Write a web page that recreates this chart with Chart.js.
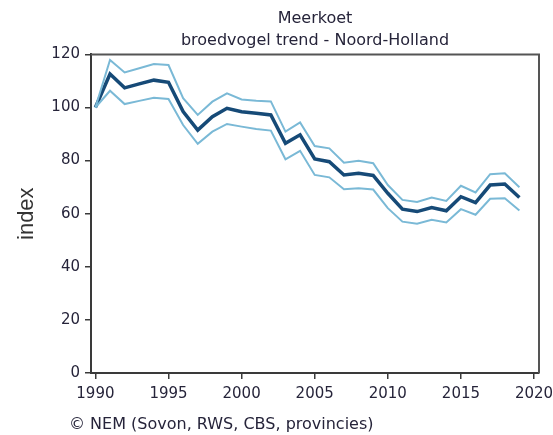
<!DOCTYPE html>
<html>
<head>
<meta charset="utf-8">
<script src="https://cdn.jsdelivr.net/npm/chart.js@4"></script>
<style>
  html, body { margin: 0; padding: 0; background: #fff; }
</style>
</head>
<body>
<canvas id="myChart" width="553" height="435"></canvas>
<script>
var years = [1990, 1991, 1992, 1993, 1994, 1995, 1996, 1997, 1998, 1999,
             2000, 2001, 2002, 2003, 2004, 2005, 2006, 2007, 2008, 2009,
             2010, 2011, 2012, 2013, 2014, 2015, 2016, 2017, 2018, 2019];

// trend index and its confidence band
var trend = [100, 112.6, 107.4, 108.9, 110.3, 109.5, 98.5, 91.5, 96.5, 99.7,
             98.4, 97.8, 97.2, 86.5, 89.7, 80.6, 79.6, 74.6, 75.2, 74.4,
             67.7, 61.7, 60.8, 62.3, 61.1, 66.4, 64.2, 70.8, 71.2, 66.1];
var upper = [100, 117.9, 113.2, 114.8, 116.4, 116, 103.5, 97.2, 102.2, 105.3,
             103, 102.5, 102.3, 90.9, 94.4, 85.5, 84.6, 79.2, 79.9, 79,
             70.8, 65.2, 64.4, 66.1, 64.8, 70.5, 68, 74.9, 75.2, 70];
var lower = [100, 106.3, 101.3, 102.5, 103.7, 103.2, 93.4, 86.3, 90.9, 93.8,
             92.8, 91.9, 91.3, 80.5, 83.7, 74.6, 73.7, 69.2, 69.6, 69.1,
             62.1, 57, 56.2, 57.7, 56.7, 61.7, 59.6, 65.6, 65.8, 61.2];

var xTicks = [1990, 1995, 2000, 2005, 2010, 2015, 2020];
var yTicks = [0, 20, 40, 60, 80, 100, 120];

var textColor = "#26243a";
var axisColor = "#3a3a3a";
var font = { family: "DejaVu Sans", size: 15 };

function points(vals) {
  return vals.map(function (v, i) { return { x: years[i], y: v }; });
}

// top/right border of the plot frame + source line
var frame = {
  id: "frame",
  afterDraw: function (chart) {
    var ctx = chart.ctx, a = chart.chartArea;
    ctx.save();
    ctx.strokeStyle = "#555";
    ctx.lineWidth = 2;
    ctx.beginPath();
    ctx.moveTo(a.left, a.top);
    ctx.lineTo(a.right, a.top);
    ctx.lineTo(a.right, a.bottom);
    ctx.stroke();
    ctx.fillStyle = textColor;
    ctx.font = "16px 'DejaVu Sans'";
    ctx.textBaseline = "middle";
    ctx.fillText("\u00a9 NEM (Sovon, RWS, CBS, provincies)", 69, 425);
    ctx.restore();
  }
};

var myChart = new Chart("myChart", {
  type: "line",
  data: {
    datasets: [
      { data: points(upper), borderColor: "#7ab9d6", borderWidth: 2 },
      { data: points(lower), borderColor: "#7ab9d6", borderWidth: 2 },
      { data: points(trend), borderColor: "#164a77", borderWidth: 3.5 }
    ]
  },
  options: {
    responsive: false,
    devicePixelRatio: 1,
    animation: false,
    elements: { point: { radius: 0 }, line: { tension: 0 } },
    layout: { padding: { left: 0, right: 14, top: 0, bottom: 0 } },
    plugins: {
      legend: { display: false },
      tooltip: { enabled: false },
      title: {
        display: true,
        text: "Meerkoet",
        fullSize: false,
        color: textColor,
        font: { family: "DejaVu Sans", size: 16, weight: "normal" },
        padding: { top: 9, bottom: 0 }
      },
      subtitle: {
        display: true,
        text: "broedvogel trend - Noord-Holland",
        fullSize: false,
        color: textColor,
        font: { family: "DejaVu Sans", size: 16, weight: "normal" },
        padding: { top: 3, bottom: 4 }
      }
    },
    scales: {
      x: {
        type: "linear",
        min: 1989.7,
        max: 2020.34,
        afterBuildTicks: function (s) { s.ticks = xTicks.map(function (v) { return { value: v }; }); },
        afterFit: function (s) { s.height = 62; s.paddingLeft = 0; s.paddingRight = 0; },
        ticks: { color: textColor, font: font, padding: 6, maxRotation: 0,
                 callback: function (v) { return String(v); } },
        grid: { drawOnChartArea: false, drawTicks: true, tickLength: 6, color: axisColor, lineWidth: 1.5 },
        border: { display: true, color: axisColor, width: 2 }
      },
      y: {
        min: 0,
        max: 120,
        afterBuildTicks: function (s) { s.ticks = yTicks.map(function (v) { return { value: v }; }); },
        afterFit: function (s) { s.width = 91; s.paddingTop = 0; s.paddingBottom = 0; },
        ticks: { color: textColor, font: font, padding: 5,
                 callback: function (v) { return String(v); } },
        grid: { drawOnChartArea: false, drawTicks: true, tickLength: 6, color: axisColor, lineWidth: 1.5 },
        border: { display: true, color: axisColor, width: 2 },
        title: {
          display: true,
          text: "index",
          color: "#333",
          font: { family: "Liberation Sans", size: 22 },
          padding: { top: 14, bottom: 0 }
        }
      }
    }
  },
  plugins: [frame]
});
</script>
</body>
</html>
